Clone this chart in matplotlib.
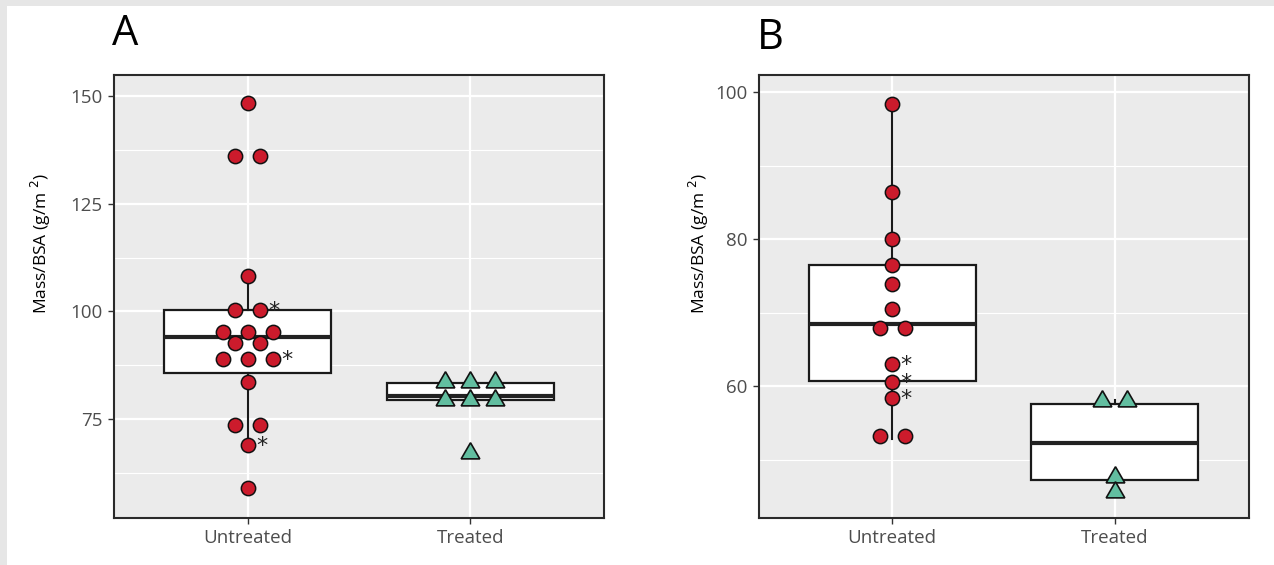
import matplotlib
matplotlib.use('Agg')
import matplotlib.pyplot as plt
from matplotlib.patches import Rectangle
from matplotlib.ticker import MultipleLocator
import numpy as np

plt.rcParams['font.family'] = ['Open Sans', 'DejaVu Sans']

groups = ['Untreated', 'Treated']

# panel A values (g/m^2)
untreated_a = [148.5, 136.0, 136.0, 108.2, 100.3, 100.3, 95.2, 95.2, 95.2, 92.7, 92.7,
               89.0, 89.0, 89.0, 83.6, 73.7, 73.7, 68.9, 59.0]
treated_a = [83.5, 83.5, 83.5, 79.5, 79.5, 79.5, 67.1]
starred_a = [5, 13, 17]   # index into untreated_a
# box stats: whislo, q1, med, q3, whishi
box_untreated_a = [68.9, 85.7, 94.0, 100.3, 108.2]
box_treated_a = [79.4, 79.4, 80.3, 83.3, 83.5]

# panel B values (g/m^2)
untreated_b = [98.4, 86.4, 80.0, 76.5, 73.9, 70.5, 67.9, 67.9, 63.0, 60.6, 58.4, 53.3, 53.3]
treated_b = [58.0, 58.0, 47.7, 45.6]
starred_b = [8, 9, 10]
box_untreated_b = [52.8, 60.7, 68.5, 76.5, 98.4]
box_treated_b = [45.6, 47.2, 52.3, 57.6, 58.2]

RED = '#CC1B2C'
TEAL = '#62BEA0'
STEP = 0.112


def dot_x(values, center):
    # stack equal values side by side, centred on the group
    xs = []
    vals = list(values)
    for i, v in enumerate(vals):
        same = [j for j, w in enumerate(vals) if w == v]
        k = len(same)
        pos = same.index(i)
        xs.append(center + (pos - (k - 1) / 2.0) * STEP)
    return np.array(xs)


def stats(b, label):
    return dict(whislo=b[0], q1=b[1], med=b[2], q3=b[3], whishi=b[4], label=label, fliers=[])


def panel(ax, unt, trt, starred, box_u, box_t, ylim, major, minor, label_x):
    ax.set_facecolor('#EBEBEB')
    ax.yaxis.set_major_locator(MultipleLocator(major))
    ax.yaxis.set_minor_locator(MultipleLocator(minor))
    ax.grid(which='major', color='white', lw=1.6)
    ax.grid(which='minor', axis='y', color='white', lw=0.8)
    ax.set_axisbelow(True)

    ax.bxp([stats(box_u, groups[0]), stats(box_t, groups[1])], positions=[1, 2], widths=0.75,
           patch_artist=True, showcaps=False, showfliers=False,
           boxprops=dict(facecolor='white', edgecolor='#1a1a1a', lw=1.6),
           medianprops=dict(color='#222222', lw=3),
           whiskerprops=dict(color='#1a1a1a', lw=1.5), zorder=2)

    xu = dot_x(unt, 1)
    xt = dot_x(trt, 2)
    ax.plot(xu, unt, 'o', ms=10.3, mfc=RED, mec='#111111', mew=1.1, ls='none', zorder=3)
    ax.plot(xt, trt, marker=(3, 0, 0), ms=15.5, mfc=TEAL, mec='#111111', mew=1.2, ls='none', zorder=3)
    for i in starred:
        ax.annotate('*', (xu[i], unt[i]), xytext=(14, -1), textcoords='offset pixels',
                    ha='center', va='center', fontsize=16, color='#222222', zorder=4,
                    family='DejaVu Sans')

    ax.set_xlim(0.4, 2.6)
    ax.set_ylim(*ylim)
    ax.set_xticks([1, 2])
    ax.set_xticklabels(groups)
    for s in ax.spines.values():
        s.set_color('#2a2a2a')
        s.set_linewidth(1.5)
    ax.tick_params(which='major', length=4, width=1, color='#333333', labelcolor='#4D4D4D',
                   labelsize=13.5, pad=4)
    ax.tick_params(which='minor', length=0)
    ax.set_ylabel('Mass/BSA (g/m $^2$)', fontsize=12.5)
    ax.yaxis.set_label_coords(label_x, 0.62)


fig = plt.figure(figsize=(12.74, 5.65), dpi=100, facecolor='#E6E6E6')
fig.patches.append(Rectangle((7 / 1274, 0), 1 - 7 / 1274, 1 - 6 / 565, transform=fig.transFigure,
                             facecolor='white', edgecolor='none', zorder=-10))

ax1 = fig.add_axes([114 / 1274, 47 / 565, 490 / 1274, 443.4 / 565])
ax2 = fig.add_axes([758.5 / 1274, 47 / 565, 490 / 1274, 443.4 / 565])

panel(ax1, untreated_a, treated_a, starred_a, box_untreated_a, box_treated_a,
      (52.0, 155.0), 25, 12.5, -0.124)
panel(ax2, untreated_b, treated_b, starred_b, box_untreated_b, box_treated_b,
      (42.1, 102.4), 20, 10, -0.097)

fig.text(112 / 1274, 1 - 45 / 565, 'A', fontsize=30, ha='left', va='baseline')
fig.text(757 / 1274, 1 - 49 / 565, 'B', fontsize=30, ha='left', va='baseline')

fig.savefig('out.png', dpi=100, facecolor=fig.get_facecolor())
